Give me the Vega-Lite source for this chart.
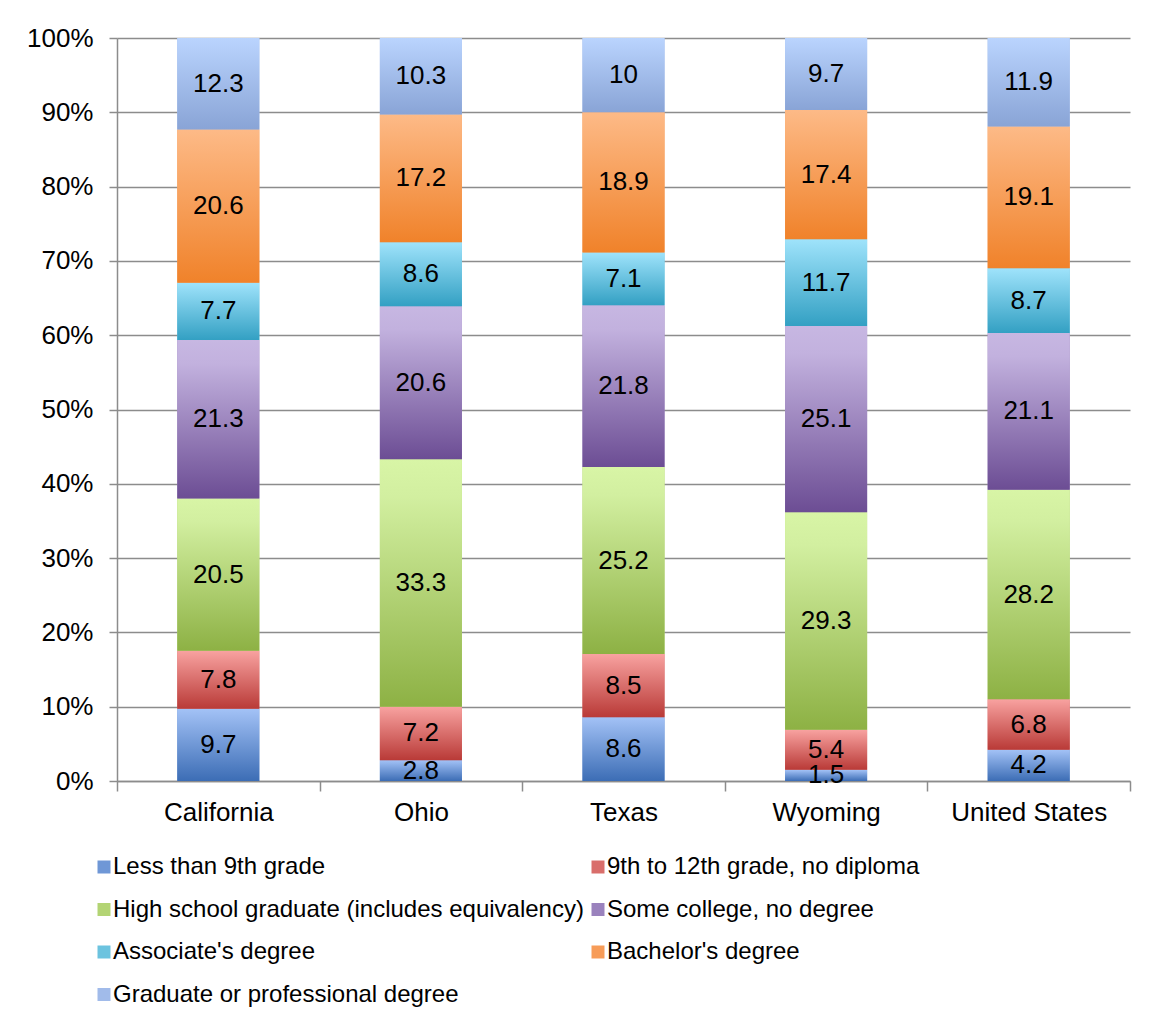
{
  "$schema": "https://vega.github.io/schema/vega-lite/v6.json",
  "width": 1013,
  "height": 743,
  "autosize": {"type": "none"},
  "padding": {"left": 117, "top": 38, "right": 28, "bottom": 243},
  "background": "white",
  "config": {
    "font": "Liberation Sans",
    "view": {"stroke": null},
    "axis": {"labelFont": "Liberation Sans", "labelColor": "#000000", "title": null},
    "legend": {"labelFont": "Liberation Sans"}
  },
  "data": {
    "values": [
      {"state": "California", "level": "Less than 9th grade", "value": 9.7},
      {"state": "California", "level": "9th to 12th grade, no diploma", "value": 7.8},
      {"state": "California", "level": "High school graduate (includes equivalency)", "value": 20.5},
      {"state": "California", "level": "Some college, no degree", "value": 21.3},
      {"state": "California", "level": "Associate's degree", "value": 7.7},
      {"state": "California", "level": "Bachelor's degree", "value": 20.6},
      {"state": "California", "level": "Graduate or professional degree", "value": 12.3},
      {"state": "Ohio", "level": "Less than 9th grade", "value": 2.8},
      {"state": "Ohio", "level": "9th to 12th grade, no diploma", "value": 7.2},
      {"state": "Ohio", "level": "High school graduate (includes equivalency)", "value": 33.3},
      {"state": "Ohio", "level": "Some college, no degree", "value": 20.6},
      {"state": "Ohio", "level": "Associate's degree", "value": 8.6},
      {"state": "Ohio", "level": "Bachelor's degree", "value": 17.2},
      {"state": "Ohio", "level": "Graduate or professional degree", "value": 10.3},
      {"state": "Texas", "level": "Less than 9th grade", "value": 8.6},
      {"state": "Texas", "level": "9th to 12th grade, no diploma", "value": 8.5},
      {"state": "Texas", "level": "High school graduate (includes equivalency)", "value": 25.2},
      {"state": "Texas", "level": "Some college, no degree", "value": 21.8},
      {"state": "Texas", "level": "Associate's degree", "value": 7.1},
      {"state": "Texas", "level": "Bachelor's degree", "value": 18.9},
      {"state": "Texas", "level": "Graduate or professional degree", "value": 10},
      {"state": "Wyoming", "level": "Less than 9th grade", "value": 1.5},
      {"state": "Wyoming", "level": "9th to 12th grade, no diploma", "value": 5.4},
      {"state": "Wyoming", "level": "High school graduate (includes equivalency)", "value": 29.3},
      {"state": "Wyoming", "level": "Some college, no degree", "value": 25.1},
      {"state": "Wyoming", "level": "Associate's degree", "value": 11.7},
      {"state": "Wyoming", "level": "Bachelor's degree", "value": 17.4},
      {"state": "Wyoming", "level": "Graduate or professional degree", "value": 9.7},
      {"state": "United States", "level": "Less than 9th grade", "value": 4.2},
      {"state": "United States", "level": "9th to 12th grade, no diploma", "value": 6.8},
      {"state": "United States", "level": "High school graduate (includes equivalency)", "value": 28.2},
      {"state": "United States", "level": "Some college, no degree", "value": 21.1},
      {"state": "United States", "level": "Associate's degree", "value": 8.7},
      {"state": "United States", "level": "Bachelor's degree", "value": 19.1},
      {"state": "United States", "level": "Graduate or professional degree", "value": 11.9}
    ]
  },
  "transform": [
    {"stack": "value", "groupby": ["state"], "offset": "normalize", "as": ["y0", "y1"]},
    {"calculate": "(datum.y0 + datum.y1) / 2", "as": "ymid"}
  ],
  "encoding": {
    "x": {
      "field": "state",
      "type": "nominal",
      "sort": ["California", "Ohio", "Texas", "Wyoming", "United States"],
      "scale": {"paddingInner": 0, "paddingOuter": 0},
      "axis": {
        "labelAngle": 0,
        "labelFontSize": 26,
        "labelPadding": 8,
        "domainColor": "#8c8c8c",
        "domainWidth": 1.5,
        "ticks": true,
        "tickColor": "#8c8c8c",
        "tickWidth": 1.5,
        "tickSize": 10,
        "tickBand": "extent",
        "grid": false
      }
    }
  },
  "layer": [
    {
      "encoding": {
        "y": {
          "field": "y0",
          "type": "quantitative",
          "scale": {"domain": [0, 1], "nice": false},
          "axis": {
            "format": ".0%",
            "values": [0, 0.1, 0.2, 0.3, 0.4, 0.5, 0.6, 0.7, 0.8, 0.9, 1],
            "labelFontSize": 26,
            "labelPadding": 16,
            "domainColor": "#8c8c8c",
            "domainWidth": 1.5,
            "tickColor": "#8c8c8c",
            "tickWidth": 1.5,
            "tickSize": 8,
            "grid": true,
            "gridColor": "#8c8c8c",
            "gridWidth": 1.5
          }
        },
        "y2": {"field": "y1"}
      },
      "layer": [
        {
          "mark": {"type": "bar", "width": {"band": 0.405}},
          "encoding": {
            "color": {
              "field": "level",
              "type": "nominal",
              "scale": {
                "domain": ["Less than 9th grade", "High school graduate (includes equivalency)", "Associate's degree", "Graduate or professional degree", "9th to 12th grade, no diploma", "Some college, no degree", "Bachelor's degree"],
                "range": ["#6f97d6", "#b3d474", "#6cc3df", "#a1bbea", "#d96e6b", "#9a82bd", "#f79c58"]
              },
              "legend": {
                "title": null,
                "orient": "none",
                "legendX": -25,
                "legendY": 817,
                "direction": "vertical",
                "columns": 2,
                "columnPadding": 2,
                "rowPadding": 18.5,
                "symbolType": "square",
                "symbolSize": 169,
                "symbolStrokeWidth": 0,
                "labelFontSize": 24,
                "labelColor": "#000000",
                "labelOffset": -3,
                "labelLimit": 700,
                "padding": 0
              }
            }
          }
        },
        {
          "transform": [{"filter": "datum.level === 'Less than 9th grade'"}],
          "mark": {"type": "bar", "width": {"band": 0.405}, "color": {"gradient": "linear", "x1": 0, "y1": 0, "x2": 0, "y2": 1, "stops": [{"offset": 0, "color": "#a3c2f6"}, {"offset": 1, "color": "#3c6db5"}]}}
        },
        {
          "transform": [{"filter": "datum.level === '9th to 12th grade, no diploma'"}],
          "mark": {"type": "bar", "width": {"band": 0.405}, "color": {"gradient": "linear", "x1": 0, "y1": 0, "x2": 0, "y2": 1, "stops": [{"offset": 0, "color": "#f8a2a0"}, {"offset": 1, "color": "#b93a37"}]}}
        },
        {
          "transform": [{"filter": "datum.level === 'High school graduate (includes equivalency)'"}],
          "mark": {"type": "bar", "width": {"band": 0.405}, "color": {"gradient": "linear", "x1": 0, "y1": 0, "x2": 0, "y2": 1, "stops": [{"offset": 0, "color": "#d8f5a6"}, {"offset": 0.15, "color": "#d2efa0"}, {"offset": 1, "color": "#8db144"}]}}
        },
        {
          "transform": [{"filter": "datum.level === 'Some college, no degree'"}],
          "mark": {"type": "bar", "width": {"band": 0.405}, "color": {"gradient": "linear", "x1": 0, "y1": 0, "x2": 0, "y2": 1, "stops": [{"offset": 0, "color": "#c7b7e2"}, {"offset": 0.15, "color": "#c2b1de"}, {"offset": 1, "color": "#6c4d94"}]}}
        },
        {
          "transform": [{"filter": "datum.level === \"Associate's degree\""}],
          "mark": {"type": "bar", "width": {"band": 0.405}, "color": {"gradient": "linear", "x1": 0, "y1": 0, "x2": 0, "y2": 1, "stops": [{"offset": 0, "color": "#9fe3fb"}, {"offset": 1, "color": "#33a0c3"}]}}
        },
        {
          "transform": [{"filter": "datum.level === \"Bachelor's degree\""}],
          "mark": {"type": "bar", "width": {"band": 0.405}, "color": {"gradient": "linear", "x1": 0, "y1": 0, "x2": 0, "y2": 1, "stops": [{"offset": 0, "color": "#fdba87"}, {"offset": 1, "color": "#f0822a"}]}}
        },
        {
          "transform": [{"filter": "datum.level === 'Graduate or professional degree'"}],
          "mark": {"type": "bar", "width": {"band": 0.405}, "color": {"gradient": "linear", "x1": 0, "y1": 0, "x2": 0, "y2": 1, "stops": [{"offset": 0, "color": "#bad4fe"}, {"offset": 1, "color": "#89a4d6"}]}}
        }
      ]
    },
    {
      "mark": {"type": "text", "fontSize": 26, "color": "#000000", "baseline": "middle", "align": "center"},
      "encoding": {
        "y": {"field": "ymid", "type": "quantitative"},
        "text": {"field": "value", "type": "quantitative"}
      }
    }
  ]
}
